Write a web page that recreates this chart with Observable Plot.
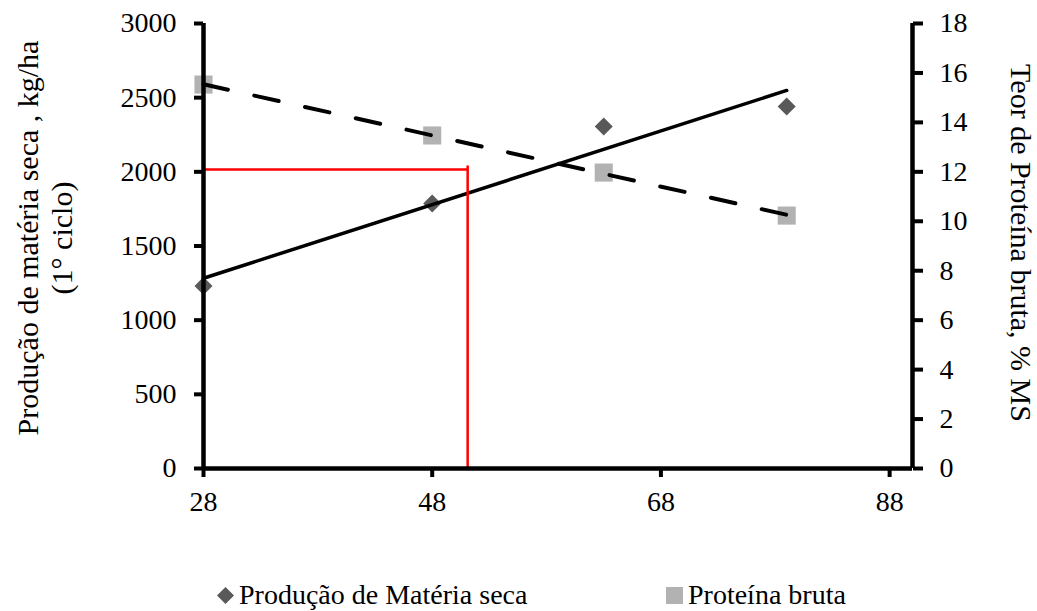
<!DOCTYPE html>
<html>
<head>
<meta charset="utf-8">
<script src="https://cdn.jsdelivr.net/npm/d3@7"></script>
<script src="https://cdn.jsdelivr.net/npm/@observablehq/plot@0.6"></script>
<style>
  html, body { margin: 0; padding: 0; background: #fff; }
  body { font-family: "Liberation Serif", "Times New Roman", serif; width: 1037px; height: 611px; overflow: hidden; }
  #legend { position: relative; width: 1037px; height: 51px; font-size: 28px; color: #000; }
  #legend .item { position: absolute; top: 21px; height: 28px; line-height: 28px; display: flex; align-items: center; white-space: nowrap; }
  #legend .item svg { margin-right: 5px; }
</style>
</head>
<body>
<div id="chart"></div>
<div id="legend"></div>
<script>
// ---- data ----
const dias = [28, 48, 63, 79];                       // x values (days)
const producao = [1230, 1786, 2306, 2440];          // Produção de matéria seca, kg/ha (left axis)
const proteina = [15.53, 13.47, 11.97, 10.23];      // Proteína bruta, % MS (right axis)
const xTicks = [28, 48, 68, 88];
const leftTicks = [0, 500, 1000, 1500, 2000, 2500, 3000];
const rightTicks = [0, 2, 4, 6, 8, 10, 12, 14, 16, 18];
const refLineX = [28, 51.1];     // red reference (horizontal) from x=28 to x=51.1
const refLineY = [2015];         // at 2015 kg/ha
const refVertY = [0, 2040];      // red vertical at x=51.1
const leftTitle = ["Produção de matéria seca , kg/ha\n(1° ciclo)"];
const rightTitle = ["Teor de Proteína bruta, % MS"];
const legendLabels = ["Produção de Matéria seca", "Proteína bruta"];
const colProd = "#595959", colProt = "#b2b2b2";

const leftMax = 3000, rightMax = 18;
const k = leftMax / rightMax;

const prod = dias.map((d, i) => ({dia: d, v: producao[i]}));
const prot = dias.map((d, i) => ({dia: d, v: proteina[i] * k}));

const font = '"Liberation Serif", "Times New Roman", serif';

const chart = Plot.plot({
  width: 1037,
  height: 560,
  marginLeft: 203,
  marginRight: 125,
  marginTop: 23,
  marginBottom: 92,
  style: {fontFamily: font, fontSize: "28px", color: "#000", background: "#fff", overflow: "visible"},
  x: {domain: [28, 90]},
  y: {domain: [0, leftMax]},
  marks: [
    Plot.axisX(xTicks, {tickSize: 9, tickPadding: 14, strokeWidth: 4, tickFormat: d => String(d), label: null, fontSize: 28}),
    Plot.axisY(leftTicks, {tickSize: 9, tickPadding: 18, strokeWidth: 4, tickFormat: d => String(d), label: null, fontSize: 28}),
    Plot.axisY(rightTicks.map(t => t * k), {anchor: "right", tickSize: 10, tickPadding: 17, strokeWidth: 4,
      tickFormat: d => String(Math.round(d / k)), label: null, fontSize: 28}),
    // markers
    Plot.dot(prod, {x: "dia", y: "v", symbol: "diamond2", r: 8.1, fill: colProd, stroke: "none"}),
    Plot.dot(prot, {x: "dia", y: "v", symbol: "square", r: 10.2, fill: colProt, stroke: "none"}),
    // trend lines
    Plot.linearRegressionY(prod, {x: "dia", y: "v", stroke: "#000", strokeWidth: 3.5, ci: 0}),
    Plot.linearRegressionY(prot, {x: "dia", y: "v", stroke: "#000", strokeWidth: 4, strokeDasharray: "25,27", ci: 0}),
    // red reference lines
    Plot.ruleY(refLineY, {x1: refLineX[0], x2: refLineX[1], stroke: "#ff0000", strokeWidth: 2.5}),
    Plot.ruleX([refLineX[1]], {y1: refVertY[0], y2: refVertY[1], stroke: "#ff0000", strokeWidth: 2.5}),
    // frame lines
    Plot.ruleX([28], {stroke: "#000", strokeWidth: 4.5}),
    Plot.ruleX([90], {stroke: "#000", strokeWidth: 4.5}),
    Plot.ruleY([0], {stroke: "#000", strokeWidth: 4.5}),
    // axis titles
    Plot.text(leftTitle, {text: d => d, frameAnchor: "left", textAnchor: "middle", lineAnchor: "middle",
      rotate: -90, dx: -159, dy: -8, fontSize: 30, lineHeight: 1.13, fill: "#000"}),
    Plot.text(rightTitle, {text: d => d, frameAnchor: "right", textAnchor: "middle", lineAnchor: "middle",
      rotate: 90, dx: 108, dy: -3, fontSize: 30, fill: "#000"})
  ]
});
document.getElementById("chart").appendChild(chart);

// legend (HTML below the SVG)
const legend = document.getElementById("legend");
const legendItems = [
  {label: legendLabels[0], left: 217, shape: `<svg width="17" height="17"><path d="M8.5 0 L17 8.5 L8.5 17 L0 8.5 Z" fill="${colProd}"/></svg>`},
  {label: legendLabels[1], left: 666, shape: `<svg width="17" height="17"><rect width="17" height="17" fill="${colProt}"/></svg>`}
];
for (const it of legendItems) {
  const div = document.createElement("div");
  div.className = "item";
  div.style.left = it.left + "px";
  div.innerHTML = it.shape;
  const span = document.createElement("span");
  span.textContent = it.label;
  div.appendChild(span);
  legend.appendChild(div);
}
</script>
</body>
</html>
